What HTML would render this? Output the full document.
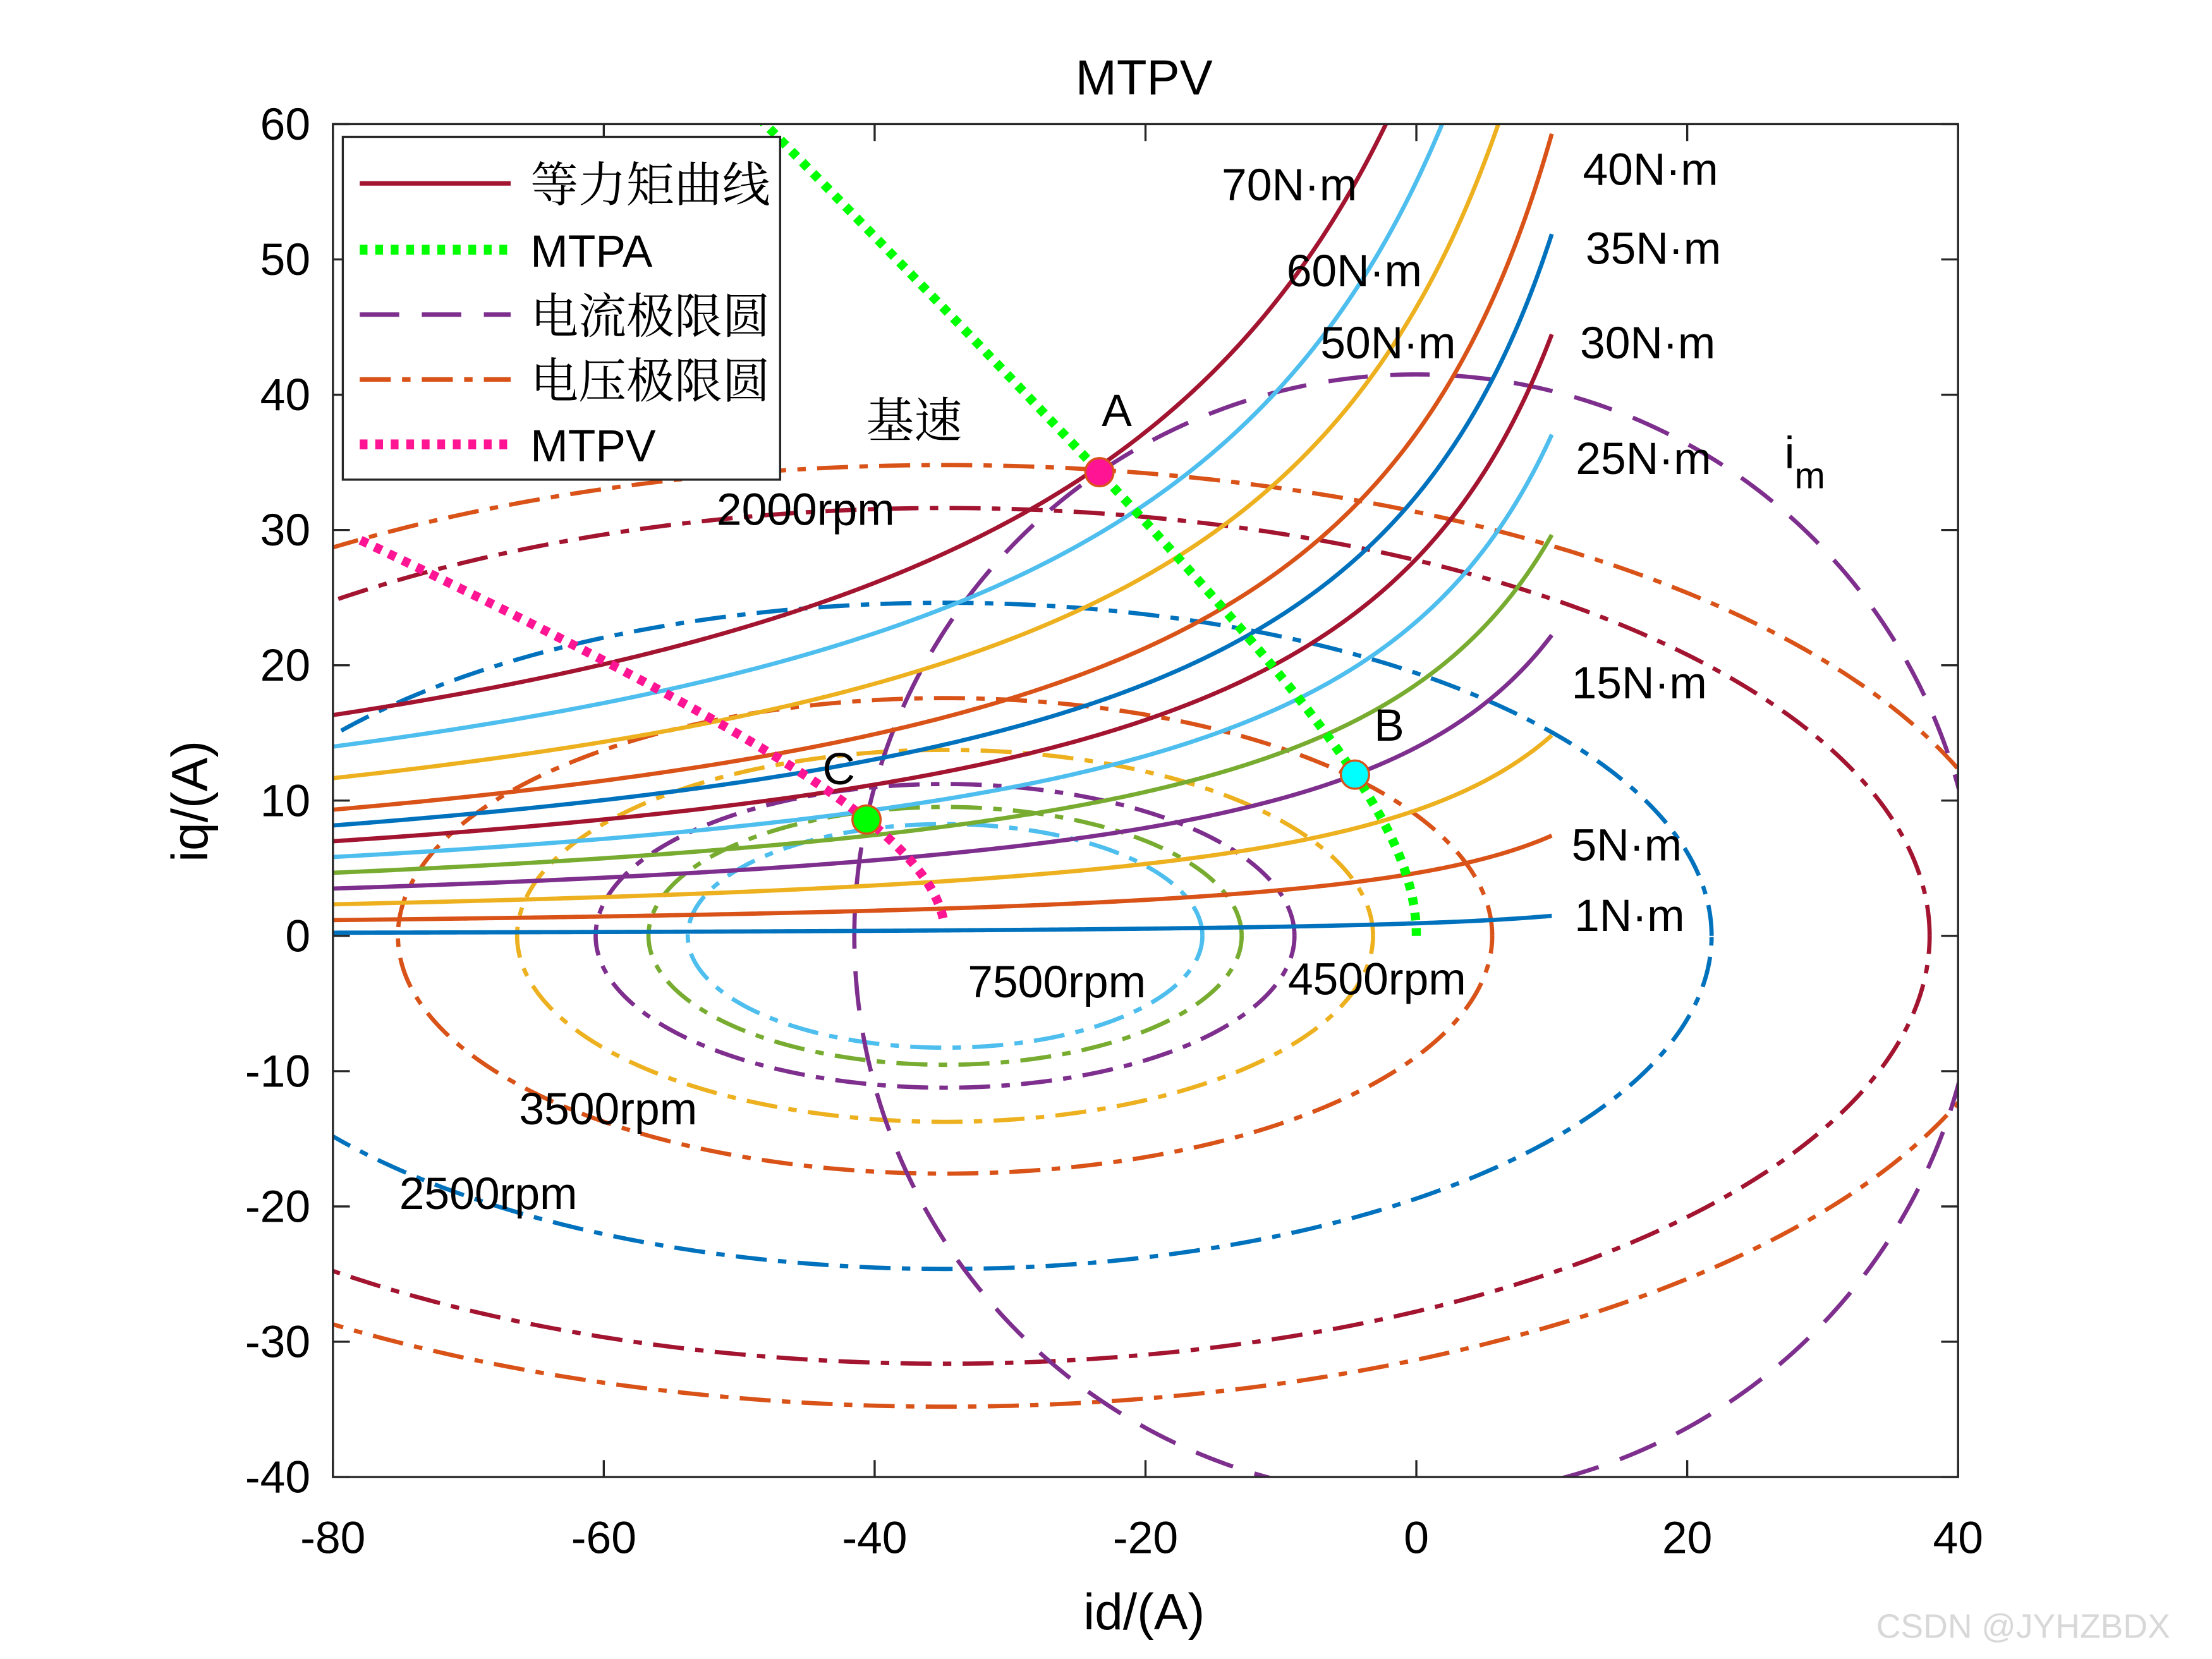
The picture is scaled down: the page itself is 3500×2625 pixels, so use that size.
<!DOCTYPE html>
<html><head><meta charset="utf-8"><style>
html,body{margin:0;padding:0;background:#fff;}
svg{display:block;}
text{font-family:"Liberation Sans","Noto Sans CJK SC",sans-serif;fill:#000;}
.cn{font-family:"Liberation Serif","Noto Serif CJK SC",serif;}
</style></head><body>
<svg id="chart" width="3500" height="2625" viewBox="0 0 1568 1176" preserveAspectRatio="none" xmlns="http://www.w3.org/2000/svg">
<defs><clipPath id="plotclip"><rect x="236" y="88" width="1152" height="959"/></clipPath></defs>
<rect x="0" y="0" width="1568" height="1176" fill="#fff"/>
<g id="plot" clip-path="url(#plotclip)"></g>
<g id="axes"></g>
<g id="annot"></g>
</svg>
<script>
// ---- data ----
const xTicks = [-80,-60,-40,-20,0,20,40];
const yTicks = [-40,-30,-20,-10,0,10,20,30,40,50,60];
const torques = [70,60,50,40,35,30,25,20,15,10,5,1];
const torqueColors = ["#A2142F","#4DBEEE","#EDB120","#D95319","#0072BD","#A2142F","#4DBEEE","#77AC30","#7E2F8E","#EDB120","#D95319","#0072BD"];
const torqueGain = 24.9;      // iq*(asym-id)/T
const torqueAsym = 26.8;      // vertical asymptote id
const ellipseCenter = -34.8;  // -psi_f/Ld
const ellipseRatio = 0.435;   // Ld/Lq
const ellipseRx = [80,72.7,56.6,40.4,31.6,25.8,21.9,19];
const ellipseColors = ["#D95319","#A2142F","#0072BD","#D95319","#EDB120","#7E2F8E","#77AC30","#4DBEEE"];
const currentLimit = 41.5;
const mtpvRx = [3,80];

const NS="http://www.w3.org/2000/svg";
const X0=236,X1=1388,Y0=88,Y1=1047;
function sx(v){return X0+(v+80)/120*(X1-X0);}
function sy(v){return Y1-(v+40)/100*(Y1-Y0);}
const plot=document.getElementById('plot'),axes=document.getElementById('axes'),annot=document.getElementById('annot');
function mk(tag,attrs,parent){const e=document.createElementNS(NS,tag);for(const k in attrs)e.setAttribute(k,attrs[k]);parent.appendChild(e);return e;}
function pathFrom(pts){return pts.map((p,i)=>(i?'L':'M')+sx(p[0]).toFixed(2)+','+sy(p[1]).toFixed(2)).join('');}

// voltage ellipses
ellipseRx.forEach((rx,i)=>{
  const pts=[];for(let k=0;k<=720;k++){const t=k/720*2*Math.PI;pts.push([ellipseCenter+rx*Math.cos(t),ellipseRatio*rx*Math.sin(t)]);}
  const p=mk('path',{d:pathFrom(pts),fill:'none',stroke:ellipseColors[i],'stroke-width':3,'stroke-dasharray':'22 8 6 8'},plot);
  
  
});
// current circle
{
  const pts=[];for(let k=0;k<=720;k++){const t=k/720*2*Math.PI;pts.push([currentLimit*Math.cos(t),currentLimit*Math.sin(t)]);}
  const p=mk('path',{d:pathFrom(pts),fill:'none',stroke:'#7E2F8E','stroke-width':3,'stroke-dasharray':'28 16'},plot);
  
  
}
// torque curves
function torqueIq(T,id){return T*torqueGain/(torqueAsym-id);}
torques.forEach((T,i)=>{
  const pts=[];for(let id=-80;id<=10.001;id+=0.25){const iq=torqueIq(T,id);if(iq>62){pts.push([id,iq]);break;}pts.push([id,iq]);}
  const p=mk('path',{d:pathFrom(pts),fill:'none',stroke:torqueColors[i],'stroke-width':3},plot);
  
  
});
// MTPA
const kL=(1/ellipseRatio)-1; const psi=-ellipseCenter;
function mtpaId(iq){return (psi-Math.sqrt(psi*psi+4*kL*kL*iq*iq))/(2*kL);}
{
  const pts=[];for(let iq=0;iq<=61;iq+=0.25)pts.push([mtpaId(iq),iq]);
  const p=mk('path',{d:pathFrom(pts),fill:'none',stroke:'#00FF00','stroke-width':6.5,'stroke-dasharray':'5.5 5.5'},plot);
  
  
}
// MTPV
function mtpvPoint(rx){const a=torqueAsym-ellipseCenter;const c=(a-Math.sqrt(a*a+8*rx*rx))/(4*rx);return [ellipseCenter+rx*c,ellipseRatio*rx*Math.sqrt(1-c*c)];}
{
  const pts=[];for(let rx=mtpvRx[0];rx<=mtpvRx[1];rx+=0.25){const q=mtpvPoint(rx);pts.push(q);if(q[0]<-81)break;}
  const p=mk('path',{d:pathFrom(pts),fill:'none',stroke:'#FF1493','stroke-width':6.5,'stroke-dasharray':'5.5 5.5'},plot);
  
  
}
// intersection points
function bisect(f,a,b){for(let k=0;k<60;k++){const m=(a+b)/2;if(f(a)*f(m)<=0)b=m;else a=m;}return (a+b)/2;}
const aIq=bisect(q=>mtpaId(q)**2+q*q-currentLimit**2,0,60);
const A=[mtpaId(aIq),aIq];
const bIq=bisect(q=>torqueIq(15,mtpaId(q))-q,1,40);
const B=[mtpaId(bIq),bIq];
const cR=bisect(r=>{const p=mtpvPoint(r);return p[0]*p[0]+p[1]*p[1]-currentLimit**2;},3,60);
const C=mtpvPoint(cR);
[[A,'#FF1493','point-a'],[B,'#00FFFF','point-b'],[C,'#00FF00','point-c']].forEach(d=>{
  const c=mk('circle',{cx:sx(d[0][0]),cy:sy(d[0][1]),r:10,fill:d[1],stroke:'#D95319','stroke-width':1.5},annot);
  
  
});

// axes box and ticks
mk('rect',{x:X0,y:Y0,width:X1-X0,height:Y1-Y0,fill:'none',stroke:'#262626','stroke-width':1.5},axes);
xTicks.forEach(v=>{
  const x=sx(v);
  mk('line',{x1:x,y1:Y1,x2:x,y2:Y1-12,stroke:'#262626','stroke-width':1.5},axes);
  mk('line',{x1:x,y1:Y0,x2:x,y2:Y0+12,stroke:'#262626','stroke-width':1.5},axes);
  const t=mk('text',{x:x,y:1101,'text-anchor':'middle','font-size':32},axes);t.textContent=v;
  
  
});
yTicks.forEach(v=>{
  const y=sy(v);
  mk('line',{x1:X0,y1:y,x2:X0+12,y2:y,stroke:'#262626','stroke-width':1.5},axes);
  mk('line',{x1:X1,y1:y,x2:X1-12,y2:y,stroke:'#262626','stroke-width':1.5},axes);
  const t=mk('text',{x:220,y:y+11,'text-anchor':'end','font-size':32},axes);t.textContent=v;
  
  
});
</script>
<svg style="position:absolute;left:0;top:0" width="3500" height="2625" viewBox="0 0 1568 1176" preserveAspectRatio="none" xmlns="http://www.w3.org/2000/svg">
<text x="811" y="67" text-anchor="middle" font-size="35">MTPV</text>
<text x="811" y="1155" text-anchor="middle" font-size="36">id/(A)</text>
<text transform="translate(147,568) rotate(-90)" text-anchor="middle" font-size="36">iq/(A)</text>
<g>
<rect x="243" y="97" width="310" height="243" fill="#fff" stroke="#262626" stroke-width="1.5"/>
<line x1="255" y1="130" x2="362" y2="130" stroke="#A2142F" stroke-width="3.2"/>
<text class="cn" x="376" y="143" font-size="34">等力矩曲线</text>
<line x1="255" y1="177" x2="362" y2="177" stroke="#00FF00" stroke-width="7" stroke-dasharray="5.5 5.5"/>
<text x="376" y="189" font-size="32">MTPA</text>
<line x1="255" y1="223" x2="362" y2="223" stroke="#7E2F8E" stroke-width="3.2" stroke-dasharray="28 16"/>
<text class="cn" x="376" y="236" font-size="34">电流极限圆</text>
<line x1="255" y1="269" x2="362" y2="269" stroke="#D95319" stroke-width="3.2" stroke-dasharray="22 8 6 8"/>
<text class="cn" x="376" y="282" font-size="34">电压极限圆</text>
<line x1="255" y1="315" x2="362" y2="315" stroke="#FF1493" stroke-width="7" stroke-dasharray="5.5 5.5"/>
<text x="376" y="327" font-size="32">MTPV</text>
</g>
<g font-size="32">
<text x="866" y="142">70N·m</text>
<text x="912" y="203">60N·m</text>
<text x="936" y="254">50N·m</text>
<text x="1122" y="131">40N·m</text>
<text x="1124" y="187">35N·m</text>
<text x="1120" y="254">30N·m</text>
<text x="1117" y="336">25N·m</text>
<text x="1114" y="495">15N·m</text>
<text x="1114" y="610">5N·m</text>
<text x="1116" y="660">1N·m</text>
<text x="1265" y="332">i<tspan font-size="26" dy="14">m</tspan></text>
<text class="cn" x="614" y="310" font-size="34">基速</text>
<text x="781" y="302">A</text>
<text x="974" y="525">B</text>
<text x="583" y="556">C</text>
<text x="508" y="372">2000rpm</text>
<text x="686" y="707">7500rpm</text>
<text x="913" y="705">4500rpm</text>
<text x="368" y="797">3500rpm</text>
<text x="283" y="857">2500rpm</text>
</g>
<text x="1330" y="1161" font-size="24" style="fill:#d8d8d8">CSDN @JYHZBDX</text>
</svg>
</body></html>
